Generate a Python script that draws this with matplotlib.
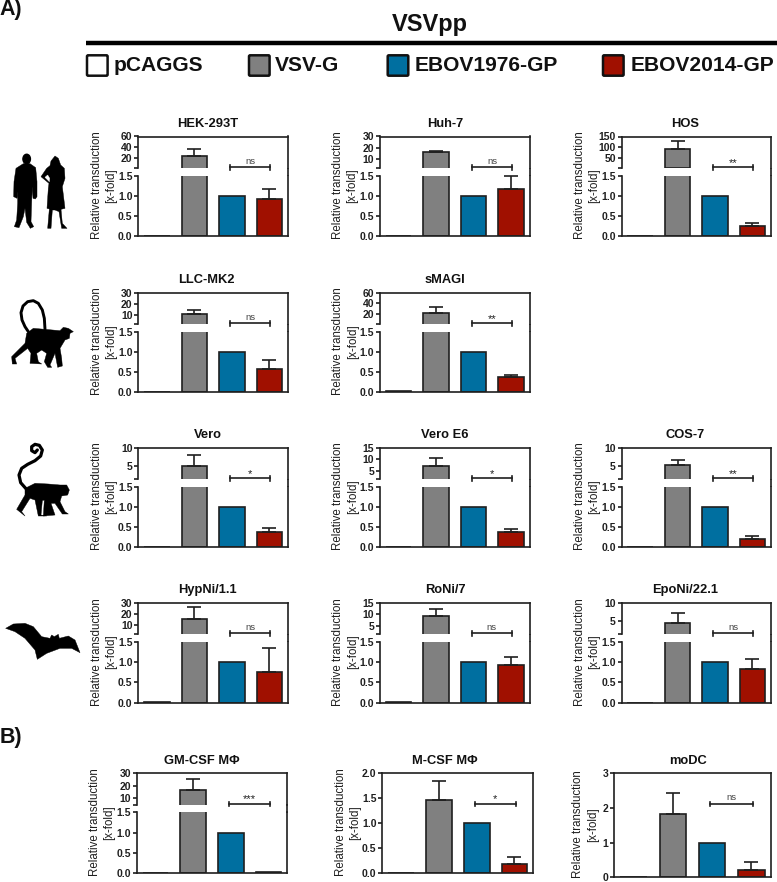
import matplotlib
matplotlib.use("Agg")
import matplotlib.pyplot as plt
from matplotlib.patches import Polygon, Ellipse, FancyBboxPatch

plt.rcParams['font.family'] = ['Liberation Sans', 'DejaVu Sans']

W = 777
H = 882

# data
names = ['HEK-293T', 'Huh-7', 'HOS', 'LLC-MK2', 'sMAGI', 'Vero', 'Vero E6', 'COS-7',
         'HypNi/1.1', 'RoNi/7', 'EpoNi/22.1', 'GM-CSF M\u03a6', 'M-CSF M\u03a6', 'moDC']
pcaggs = [0, 0, 0.01, 0, 0.02, 0, 0, 0, 0.01, 0.01, 0, 0.005, 0.005, 0]
vsvg = [24.3, 16.4, 90, 10.9, 23, 5.1, 7, 5.4, 15, 9.4, 4.4, 17.1, 1.46, 1.84]
vsvg_top = [37, 16.6, 128, 14.2, 34, 7.9, 10.8, 6.6, 25.8, 12.4, 7.2, 25.3, 1.85, 2.42]
ebov76 = [1, 1, 1, 1, 1, 1, 1, 1, 1, 1, 1, 1, 1, 1]
ebov14 = [0.92, 1.16, 0.24, 0.58, 0.38, 0.36, 0.36, 0.2, 0.76, 0.92, 0.83, 0.03, 0.19, 0.22]
ebov14_top = [1.16, 1.5, 0.32, 0.79, 0.41, 0.48, 0.45, 0.28, 1.35, 1.12, 1.07, 0.03, 0.33, 0.43]
signif = ['ns', 'ns', '**', 'ns', '**', '*', '*', '**', 'ns', 'ns', 'ns', '***', '*', 'ns']
upper_ticks = [[20, 40, 60], [10, 20, 30], [50, 100, 150], [10, 20, 30], [20, 40, 60],
               [5, 10], [5, 10, 15], [5, 10], [10, 20, 30], [5, 10, 15], [5, 10],
               [10, 20, 30], None, None]
upper_low = [1.5, 1.5, 1.5, 1.5, 1.5, 1.5, 1.5, 1.5, 1.5, 1.5, 1.5, 5, None, None]
lower_ticks = [[0, 0.5, 1.0, 1.5]] * 12 + [[0, 0.5, 1.0, 1.5, 2.0], [0, 1, 2, 3]]
legend_names = ['pCAGGS', 'VSV-G', 'EBOV1976-GP', 'EBOV2014-GP']

# panel boxes in pixels: left, right, top, bottom
boxes = [(138.3, 288, 136.5, 236), (379.5, 530, 136.5, 236), (621.5, 771, 136.5, 236),
         (138.3, 288, 292.7, 391.7), (380, 529.5, 292.7, 391.7),
         (138.3, 288, 447.7, 546.7), (380, 529.5, 447.7, 546.7), (621.5, 771, 447.7, 546.7),
         (138.3, 288, 602.7, 702.7), (380, 529.5, 602.7, 702.7), (621.5, 771, 602.7, 702.7),
         (136.7, 287.3, 773.3, 873.3), (382.3, 533.3, 773.3, 873.3), (614, 771, 773.3, 877.3)]
title_x = [207.5, 445, 685, 206.5, 445, 207.5, 445, 685, 207.5, 445, 685, 201.5, 445, 688]
label_off = [34.5] * 13 + [28.5]

INK = '#1f1f1f'
colors = ['white', '#808080', '#006fa0', '#a01000']
LW = 1.2

fig = plt.figure(figsize=(W / 100, H / 100), dpi=100)


def make_axes(left, right, top, bottom):
    ax = fig.add_axes([left / W, 1 - bottom / H, (right - left) / W, (bottom - top) / H])
    ax.set_xlim(-0.5, 3.5)
    ax.set_xticks([])
    ax.patch.set_alpha(0)
    for s in ax.spines.values():
        s.set_linewidth(LW)
        s.set_color(INK)
    ax.tick_params(axis='y', length=2.6, width=LW, color=INK, pad=1.5, labelsize=7.5, labelcolor=INK)
    return ax


def draw_bars(ax, vals, tops):
    ymin, ymax = ax.get_ylim()
    for i in range(4):
        # a bar wholly below this segment would leave a stray line at the clip edge
        if vals[i] <= ymin and ymin > 0:
            continue
        ax.bar(i, vals[i], width=0.68, color=colors[i], edgecolor=INK, linewidth=LW)
        if tops[i] is None or tops[i] <= vals[i] or vals[i] > ymax:
            continue
        eb = ax.errorbar(i, vals[i], yerr=[[0], [tops[i] - vals[i]]], ecolor=INK, elinewidth=LW,
                         capsize=4.7, capthick=LW, fmt='none')
        for c in eb.lines[1] + eb.lines[2]:
            c.set_clip_on(False)
    ax.set_ylim(ymin, ymax)
    ax.set_xlim(-0.5, 3.5)


def tick_text(ticks):
    out = []
    for t in ticks:
        if max(ticks) == 3 or t >= 5:
            out.append('%d' % t)
        else:
            out.append('%.1f' % t)
    return out


# overlay in pixel coordinates for the header, labels and animal shapes
ov = fig.add_axes([0, 0, 1, 1], zorder=5)
ov.set_xlim(0, W)
ov.set_ylim(H, 0)
ov.axis('off')

for i in range(len(names)):
    left, right, top, bottom = boxes[i]
    vals = [pcaggs[i], vsvg[i], ebov76[i], ebov14[i]]
    tops = [None, vsvg_top[i], None, ebov14_top[i]]
    if upper_ticks[i] is not None:
        up = make_axes(left, right, top, top + 31.5)
        low = make_axes(left, right, top + 39, bottom)
        up.set_ylim(upper_low[i], upper_ticks[i][-1])
        up.spines['bottom'].set_visible(False)
        up.set_yticks([upper_low[i]] + upper_ticks[i])
        up.set_yticklabels([''] + ['%d' % t for t in upper_ticks[i]], fontweight='bold')
        draw_bars(up, vals, tops)
        low.spines['top'].set_visible(False)
        low.set_ylim(0, 1.5)
        ov.plot([right, right], [top + 31, top + 39.5], color=INK, lw=LW, solid_capstyle='butt')
    else:
        low = make_axes(left, right, top, bottom)
        low.set_ylim(lower_ticks[i][0], lower_ticks[i][-1])
    low.set_yticks(lower_ticks[i])
    low.set_yticklabels(tick_text(lower_ticks[i]), fontweight='bold')
    draw_bars(low, vals, tops)

    # significance bracket, x follows the bars
    unit = (right - left) / 4.0
    x0 = left + (1.95 + 0.5) * unit
    x1 = left + (3.03 + 0.5) * unit
    yb = top + 30.6
    ov.plot([x0, x1], [yb, yb], color=INK, lw=LW)
    ov.plot([x0, x0], [yb - 2.4, yb + 2.4], color=INK, lw=LW)
    ov.plot([x1, x1], [yb - 2.4, yb + 2.4], color=INK, lw=LW)
    if signif[i] == 'ns':
        ov.text((x0 + x1) / 2, yb - 6, 'ns', ha='center', va='center', fontsize=6.8, color='#444444')
    else:
        ov.text((x0 + x1) / 2, yb - 4.5, signif[i], ha='center', va='center', fontsize=8, color=INK)

    ov.text(title_x[i], top - 12.7, names[i], ha='center', va='center', fontsize=9.3,
            fontweight='bold', color='#111111')
    ov.text(left - label_off[i], (top + bottom) / 2 - 1, 'Relative transduction\n[x-fold]', rotation=90,
            ha='center', va='center', ma='center', fontsize=8.3, color=INK, linespacing=1.25)

# header
ov.text(430, 24, 'VSVpp', ha='center', va='center', fontsize=17, fontweight='bold', color='#111111')
ov.plot([86, 777], [42.5, 42.5], color='black', lw=3.2, solid_capstyle='butt')
ov.text(-1, 15, 'A)', ha='left', va='baseline', fontsize=15.5, fontweight='bold', color='#111111')
ov.text(0, 743.5, 'B)', ha='left', va='baseline', fontsize=15.5, fontweight='bold', color='#111111')

box_x = [86, 248, 386.7, 602]
text_x = [114, 275.3, 415, 630.7]
for i in range(4):
    ov.add_patch(FancyBboxPatch((box_x[i] + 1, 55.3), 20.6, 20.4, boxstyle='round,pad=0,rounding_size=1.2',
                                facecolor=colors[i], edgecolor='#111111', linewidth=1.8))
    ov.text(text_x[i], 65.7, legend_names[i], ha='left', va='center', fontsize=15.1, fontweight='bold',
            color='#111111')


def shape(pts, ox, oy, color='black'):
    ov.add_patch(Polygon([(ox + x / 3.0, oy + y / 3.0) for x, y in pts], closed=True, facecolor=color,
                         edgecolor=color, linewidth=0.3, joinstyle='round'))


def tail(pts, ox, oy, lw):
    ov.plot([ox + p[0] / 3.0 for p in pts], [oy + p[1] / 3.0 for p in pts], color='black', lw=lw,
            solid_capstyle='round', solid_joinstyle='round')


# man and woman
ov.add_patch(Ellipse((5 + 65 / 3.0, 145 + 42 / 3.0), 7.5, 9.5, color='black'))
shape([(55, 56), (75, 56), (92, 68), (96, 110), (96, 155), (91, 162), (84, 160), (82, 125), (80, 170),
       (78, 230), (86, 245), (76, 250), (65, 232), (60, 190), (55, 215), (42, 248), (28, 245), (35, 225),
       (38, 175), (38, 140), (36, 160), (26, 155), (27, 110), (33, 70)], 5, 145)
shape([(138, 48), (150, 33), (160, 40), (167, 60), (178, 70), (180, 100), (172, 125), (180, 190), (168, 193),
       (172, 235), (186, 250), (170, 250), (162, 200), (150, 195), (142, 195), (138, 250), (128, 250),
       (133, 192), (126, 190), (130, 130), (132, 115), (108, 95), (125, 70), (135, 62)], 5, 145)
shape([(128, 90), (134, 100), (133, 110), (120, 97)], 5, 145, 'white')

# long tailed monkey
shape([(65, 130), (85, 115), (120, 118), (165, 122), (175, 112), (190, 115), (205, 125), (195, 130), (193, 145),
       (180, 150), (165, 175), (170, 205), (172, 228), (158, 232), (150, 190), (135, 225), (140, 232),
       (128, 232), (118, 215), (125, 190), (110, 180), (95, 190), (100, 215), (110, 222), (75, 220), (78, 190),
       (68, 175), (30, 205), (35, 222), (22, 222), (20, 200), (60, 160)], 5, 290)
tail([(70, 125), (60, 110), (51, 90), (48, 68), (54, 48), (68, 35), (85, 32), (100, 40), (112, 60), (118, 85),
      (120, 118)], 5, 290, 2.1)

# curled tail monkey
shape([(60, 145), (90, 130), (130, 132), (165, 135), (185, 135), (193, 150), (188, 165), (170, 168), (165, 185),
       (180, 215), (190, 222), (172, 222), (150, 190), (138, 190), (150, 225), (115, 228), (118, 180), (112, 182),
       (108, 225), (125, 228), (100, 228), (90, 180), (75, 175), (50, 215), (60, 228), (35, 208), (60, 165)],
      5, 440)
tail([(62, 145), (47, 128), (42, 105), (50, 85), (68, 73), (90, 62), (107, 48), (112, 30), (103, 16), (90, 13),
      (80, 20), (80, 32), (90, 38), (97, 30)], 5, 440, 2.3)

# bat
shape([(17, 55), (40, 42), (75, 40), (100, 50), (125, 80), (150, 85), (155, 75), (163, 80), (175, 73), (178, 85),
       (205, 78), (225, 90), (240, 128), (215, 115), (180, 115), (140, 130), (112, 148), (105, 120), (75, 85),
       (45, 65)], 0, 610)

fig.savefig('out.png', dpi=100)
